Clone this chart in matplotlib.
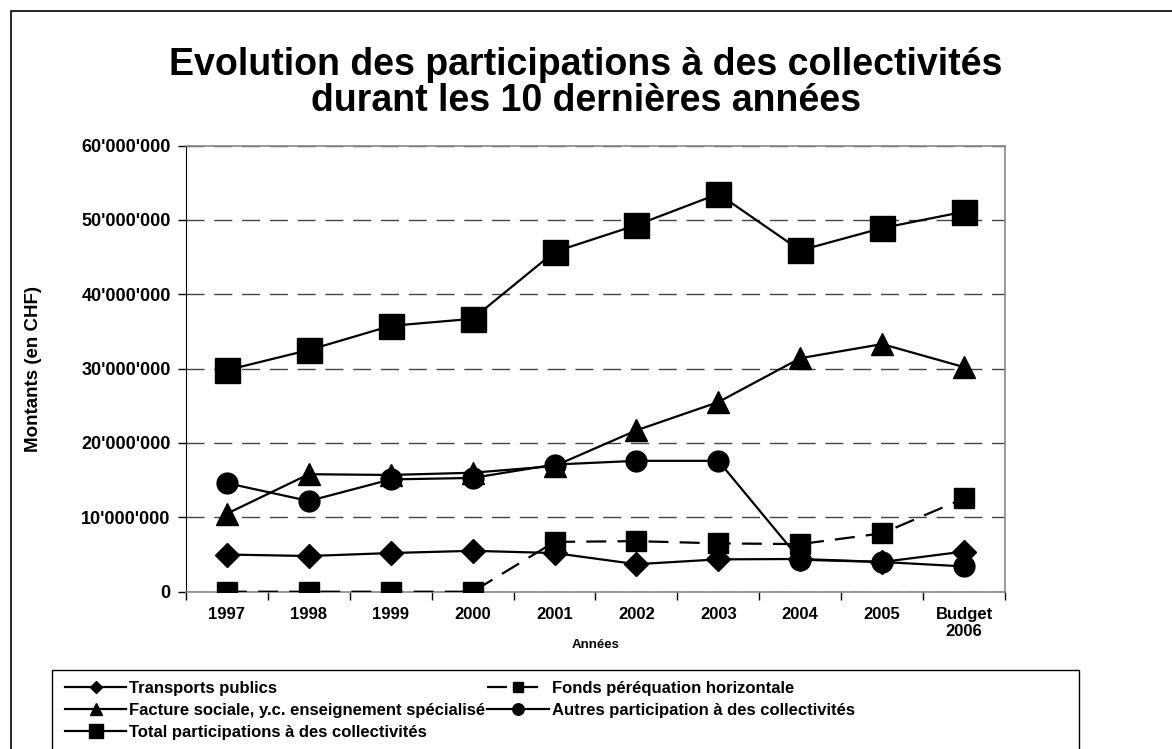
import matplotlib.pyplot as plt
from matplotlib.patches import Rectangle
from matplotlib.ticker import FuncFormatter, FixedLocator
import numpy as np

plt.rcParams['font.family'] = ['Liberation Sans', 'DejaVu Sans']
plt.rcParams['font.weight'] = 'bold'

# categories (years)
years = ['1997', '1998', '1999', '2000', '2001', '2002', '2003', '2004', '2005', 'Budget\n2006']

# series values in CHF
transports = [5.0e6, 4.8e6, 5.2e6, 5.5e6, 5.2e6, 3.7e6, 4.35e6, 4.4e6, 4.0e6, 5.4e6]
fonds = [0, 0, 0, 0, 6.7e6, 6.8e6, 6.5e6, 6.4e6, 7.85e6, 12.55e6]
facture = [10.5e6, 15.8e6, 15.7e6, 16.0e6, 16.9e6, 21.7e6, 25.5e6, 31.4e6, 33.3e6, 30.2e6]
autres = [14.6e6, 12.2e6, 15.1e6, 15.3e6, 17.1e6, 17.6e6, 17.6e6, 4.3e6, 4.0e6, 3.4e6]
total = [29.8e6, 32.5e6, 35.75e6, 36.7e6, 45.7e6, 49.3e6, 53.5e6, 45.9e6, 48.9e6, 51.1e6]

labels = ['Transports publics',
          'Facture sociale, y.c. enseignement spécialisé',
          'Total participations à des collectivités',
          'Fonds péréquation horizontale',
          'Autres participation à des collectivités']

fig = plt.figure(figsize=(11.72, 7.49), dpi=100)
ax = fig.add_axes([0.1587, 0.21, 0.6988, 0.5957])

x = np.arange(len(years))
lw = 1.6
l_tr, = ax.plot(x, transports, '-', color='black', lw=lw, marker='D', ms=12, zorder=3)
l_fa, = ax.plot(x, facture, '-', color='black', lw=lw, marker='^', ms=16, zorder=3)
l_to, = ax.plot(x, total, '-', color='black', lw=lw, marker='s', ms=18, zorder=3)
l_fo, = ax.plot(x, fonds, color='black', lw=lw, marker='s', ms=14, zorder=3,
                linestyle=(0, (9, 5)))
l_au, = ax.plot(x, autres, '-', color='black', lw=lw, marker='o', ms=15, zorder=3)

ax.set_xlim(-0.5, len(years) - 0.5)
ax.set_ylim(0, 60e6)
ax.yaxis.set_major_locator(FixedLocator(np.arange(0, 60e6 + 1, 10e6)))
ax.yaxis.set_major_formatter(FuncFormatter(
    lambda v, p: '0' if v == 0 else f"{int(v):,}".replace(',', "'")))

# category boundaries as ticks, labels centered
ax.set_xticks(np.arange(-0.5, len(years), 1.0))
ax.set_xticklabels([])
ax.set_xticks(x, minor=True)
ax.set_xticklabels(years, minor=True)
ax.tick_params(axis='x', which='major', direction='out', length=6, width=1, color='black')
ax.tick_params(axis='x', which='minor', length=0, pad=11, labelsize=12)
ax.tick_params(axis='y', direction='out', length=6, width=1, labelsize=13, pad=5)

ax.yaxis.grid(True, color='#444444', lw=1, linestyle=(0, (13, 7)))
ax.set_axisbelow(True)
for s in ['top', 'right']:
    ax.spines[s].set_color('#888888')
    ax.spines[s].set_linewidth(1.2)
ax.spines['left'].set_color('black')
ax.spines['bottom'].set_color('#888888')
ax.spines['bottom'].set_linewidth(1.2)

ax.set_ylabel('Montants (en CHF)', fontsize=13.5, fontweight='bold', labelpad=28)
ax.set_xlabel('Années', fontsize=9.5, fontweight='bold', labelpad=0)

fig.text(0.5, 0.889, 'Evolution des participations à des collectivités\n'
         'durant les 10 dernières années', ha='center', va='center',
         fontsize=27, fontweight='bold', linespacing=1.02)

# legend
leg = fig.legend([l_tr, l_fa, l_to, l_fo, l_au], labels, ncol=2,
                 loc='upper left', bbox_to_anchor=(58 / 1172, 1 - 674 / 749),
                 frameon=False, fontsize=12, markerscale=0.55,
                 handlelength=3.7, handletextpad=0.15, columnspacing=0.15,
                 labelspacing=0.42, borderaxespad=0)

fig.add_artist(Rectangle((52 / 1172, -0.05), 1027 / 1172, 0.05 + 79 / 749,
                         transform=fig.transFigure, fill=False,
                         edgecolor='black', lw=1, clip_on=False))
fig.add_artist(Rectangle((11 / 1172, -0.1), 1.2, 0.1 + 1 - 11 / 749,
                         transform=fig.transFigure, fill=False,
                         edgecolor='black', lw=1.2, clip_on=False))

fig.savefig('out.png', dpi=100)
